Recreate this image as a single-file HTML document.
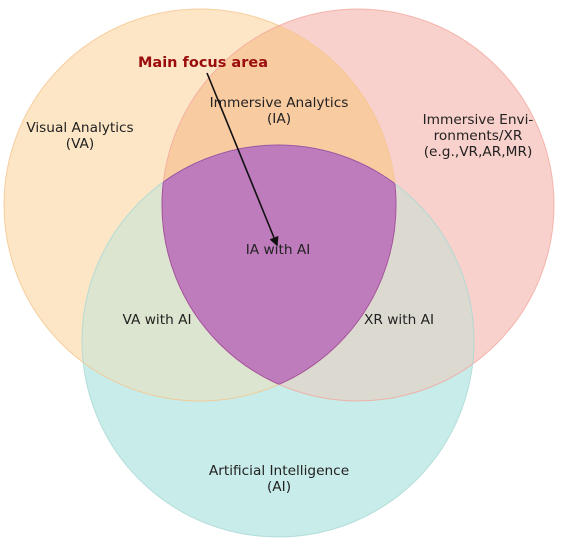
<!DOCTYPE html>
<html><head><style>body{margin:0;background:#fff}svg{display:block}</style></head><body>
<svg width="562" height="542" viewBox="0 0 562 542" xmlns="http://www.w3.org/2000/svg" font-family="DejaVu Sans, sans-serif">
<defs>
<clipPath id="va"><circle cx="200" cy="205" r="196"/></clipPath>
<clipPath id="xr"><circle cx="358" cy="205" r="196"/></clipPath>
<clipPath id="ai"><circle cx="278" cy="341" r="196"/></clipPath>
<marker id="ah" markerWidth="6" markerHeight="6" refX="5" refY="3" orient="auto"><path d="M0,0 L6,3 L0,6 z" fill="#111"/></marker>
</defs>
<circle cx="200" cy="205" r="196" fill="#fde6c6"/>
<circle cx="358" cy="205" r="196" fill="#f9d1cc"/>
<circle cx="278" cy="341" r="196" fill="#c8ece9"/>
<circle cx="358" cy="205" r="196" fill="#f9cba1" clip-path="url(#va)"/>
<circle cx="278" cy="341" r="196" fill="#dce5cf" clip-path="url(#va)"/>
<circle cx="278" cy="341" r="196" fill="#dcd9d1" clip-path="url(#xr)"/>
<g clip-path="url(#va)"><circle cx="278" cy="341" r="196" fill="#be7cbd" clip-path="url(#xr)"/></g>
<circle cx="200" cy="205" r="196" fill="none" stroke="#f4c58e" stroke-width="1" opacity="0.8"/>
<circle cx="358" cy="205" r="196" fill="none" stroke="#f2a79e" stroke-width="1" opacity="0.8"/>
<circle cx="278" cy="341" r="196" fill="none" stroke="#a8d8d4" stroke-width="1" opacity="0.8"/>
<g clip-path="url(#va)"><circle cx="358" cy="205" r="196" fill="none" stroke="#a050a0" stroke-width="1" clip-path="url(#ai)"/></g>
<g clip-path="url(#xr)"><circle cx="200" cy="205" r="196" fill="none" stroke="#a050a0" stroke-width="1" clip-path="url(#ai)"/></g>
<g clip-path="url(#va)"><circle cx="278" cy="341" r="196" fill="none" stroke="#a050a0" stroke-width="1" clip-path="url(#xr)"/></g>
<g font-size="13.7" fill="#222" text-anchor="middle">
<text x="80" y="132">Visual Analytics</text><text x="80" y="148">(VA)</text>
<text x="279" y="107">Immersive Analytics</text><text x="279" y="123">(IA)</text>
<text x="478" y="124">Immersive Envi-</text><text x="478" y="140">ronments/XR</text><text x="478" y="156">(e.g.,VR,AR,MR)</text>
<text x="278" y="254">IA with AI</text>
<text x="157" y="324">VA with AI</text>
<text x="399" y="324">XR with AI</text>
<text x="279" y="475">Artificial Intelligence</text><text x="279" y="491">(AI)</text>
</g>
<text x="203" y="67" font-size="14.5" font-weight="bold" fill="#9b0d0d" text-anchor="middle">Main focus area</text>
<line x1="207" y1="73" x2="277" y2="245" stroke="#111" stroke-width="1.6" marker-end="url(#ah)"/>
</svg>
</body></html>
